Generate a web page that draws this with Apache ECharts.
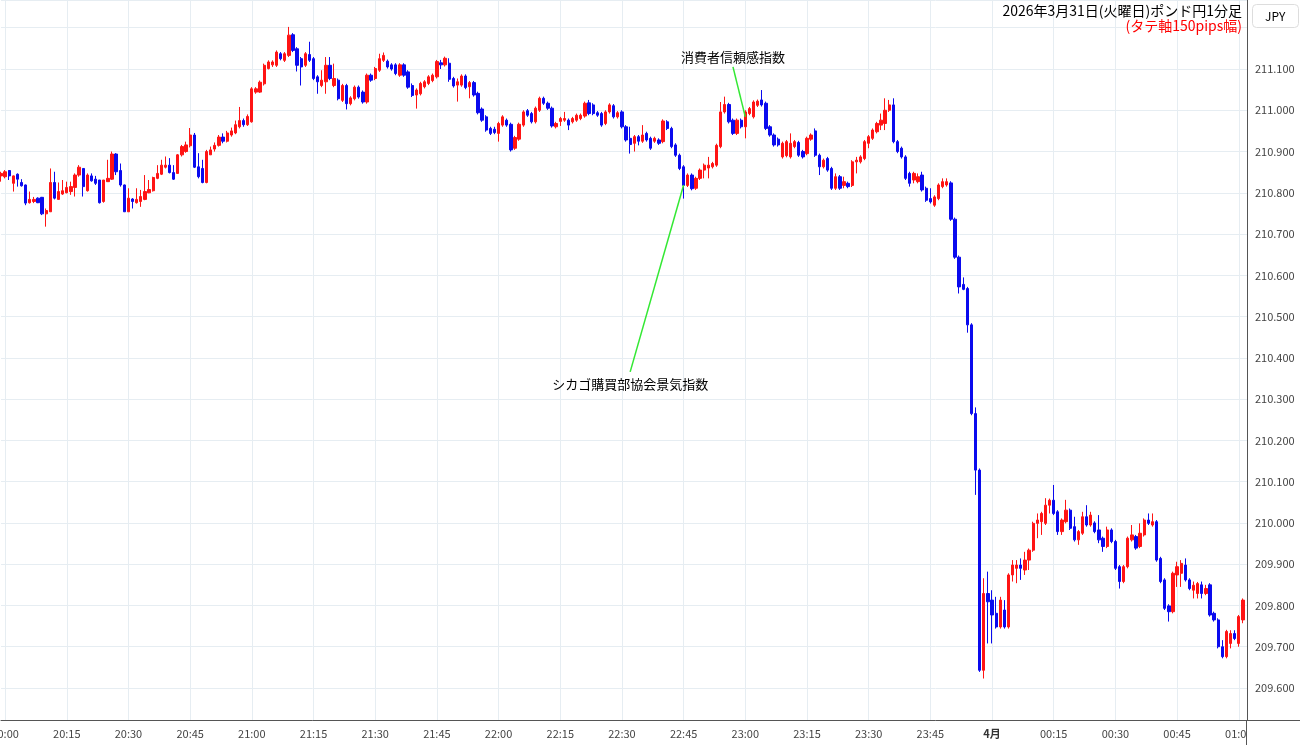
<!DOCTYPE html>
<html>
<head>
<meta charset="utf-8">
<title>ポンド円1分足</title>
<script src="https://cdn.jsdelivr.net/npm/echarts@6/dist/echarts.min.js"></script>
<style>
  html, body { margin: 0; padding: 0; background: #fff; }
  #main { width: 1300px; height: 745px; }
</style>
</head>
<body>
<div id="main"></div>
<script>
// GBP/JPY 1-minute candles, 2026/3/31 19:59 -> 4/1 01:01
const startMinute = 19 * 60 + 59;
const slotCount = 304; // one empty slot after the last candle

const opens = [
  210.841, 210.839, 210.854, 210.823, 210.845, 210.825, 210.819, 210.776, 210.779, 210.787,
  210.789, 210.749, 210.754, 210.825, 210.784, 210.797, 210.800, 210.803, 210.813, 210.843,
  210.859, 210.805, 210.841, 210.833, 210.831, 210.779, 210.827, 210.833, 210.894, 210.854,
  210.819, 210.754, 210.785, 210.776, 210.779, 210.784, 210.800, 210.805, 210.835, 210.845,
  210.862, 210.867, 210.849, 210.847, 210.892, 210.900, 210.914, 210.940, 210.863, 210.859,
  210.825, 210.892, 210.906, 210.915, 210.935, 210.925, 210.940, 210.945, 210.960, 210.975,
  210.965, 210.972, 211.044, 211.044, 211.064, 211.101, 211.110, 211.109, 211.137, 211.121,
  211.133, 211.183, 211.149, 211.125, 211.109, 211.135, 211.125, 211.081, 211.060, 211.069,
  211.109, 211.060, 211.073, 211.024, 211.060, 211.016, 211.028, 211.056, 211.044, 211.020,
  211.085, 211.077, 211.097, 211.121, 211.119, 211.110, 211.110, 211.085, 211.110, 211.093,
  211.060, 211.037, 211.040, 211.057, 211.065, 211.072, 211.081, 211.115, 211.110, 211.114,
  211.077, 211.061, 211.061, 211.083, 211.057, 211.067, 211.041, 211.003, 210.984, 210.956,
  210.954, 210.944, 210.964, 210.976, 210.966, 210.908, 210.930, 210.964, 210.999, 210.992,
  210.972, 211.000, 211.029, 211.017, 211.005, 210.960, 210.973, 210.976, 210.976, 210.972,
  210.976, 210.980, 210.986, 211.018, 211.013, 210.994, 210.992, 210.968, 210.996, 211.011,
  210.984, 210.996, 210.960, 210.932, 210.920, 210.936, 210.925, 210.944, 210.932, 210.925,
  210.928, 210.924, 210.972, 210.956, 210.916, 210.891, 210.863, 210.818, 210.843, 210.811,
  210.835, 210.855, 210.860, 210.863, 210.867, 210.912, 210.996, 211.014, 210.976, 210.944,
  210.976, 210.960, 210.992, 210.984, 211.012, 211.025, 211.017, 210.960, 210.940, 210.930,
  210.887, 210.890, 210.887, 210.912, 210.922, 210.900, 210.895, 210.930, 210.950, 210.891,
  210.863, 210.883, 210.859, 210.811, 210.839, 210.818, 210.823, 210.818, 210.875, 210.875,
  210.883, 210.920, 210.932, 210.948, 210.964, 210.968, 211.000, 211.013, 210.924, 210.908,
  210.887, 210.847, 210.831, 210.827, 210.843, 210.811, 210.786, 210.770, 210.786, 210.815,
  210.819, 210.824, 210.736, 210.644, 210.578, 210.568, 210.480, 210.265, 210.128, 209.643,
  209.829, 209.813, 209.781, 209.748, 209.789, 209.748, 209.874, 209.890, 209.898, 209.886,
  209.910, 209.934, 209.999, 210.003, 209.999, 210.043, 210.055, 210.027, 209.979, 210.003,
  210.031, 209.991, 209.959, 209.975, 210.015, 209.995, 210.000, 209.983, 209.963, 209.943,
  209.983, 209.955, 209.894, 209.858, 209.894, 209.959, 209.967, 209.943, 209.971, 210.007,
  209.995, 210.003, 209.914, 209.862, 209.799, 209.785, 209.874, 209.878, 209.898, 209.862,
  209.837, 209.829, 209.850, 209.829, 209.850, 209.781, 209.765, 209.700, 209.676, 209.708,
  209.732, 209.708, 209.765
];

const closes = [
  210.847, 210.851, 210.841, 210.841, 210.833, 210.817, 210.775, 210.784, 210.784, 210.776,
  210.749, 210.757, 210.825, 210.787, 210.803, 210.805, 210.813, 210.815, 210.843, 210.862,
  210.815, 210.843, 210.829, 210.823, 210.776, 210.831, 210.835, 210.894, 210.851, 210.819,
  210.754, 210.787, 210.779, 210.784, 210.791, 210.803, 210.808, 210.837, 210.847, 210.867,
  210.867, 210.849, 210.833, 210.892, 210.912, 210.916, 210.940, 210.862, 210.839, 210.825,
  210.900, 210.904, 210.915, 210.935, 210.925, 210.945, 210.950, 210.965, 210.975, 210.965,
  210.985, 211.052, 211.052, 211.068, 211.109, 211.117, 211.117, 211.141, 211.125, 211.137,
  211.182, 211.145, 211.109, 211.105, 211.137, 211.121, 211.077, 211.069, 211.073, 211.109,
  211.077, 211.077, 211.028, 211.060, 211.016, 211.030, 211.056, 211.032, 211.020, 211.085,
  211.073, 211.101, 211.125, 211.133, 211.105, 211.100, 211.089, 211.110, 211.085, 211.056,
  211.036, 211.049, 211.065, 211.069, 211.081, 211.085, 211.118, 211.110, 211.126, 211.075,
  211.059, 211.069, 211.083, 211.055, 211.067, 211.037, 210.994, 210.976, 210.952, 210.944,
  210.946, 210.968, 210.984, 210.964, 210.904, 210.934, 210.966, 210.996, 210.988, 210.972,
  211.005, 211.029, 211.017, 211.005, 210.962, 210.968, 210.980, 210.980, 210.964, 210.980,
  210.988, 210.988, 211.017, 210.992, 210.992, 210.988, 210.964, 210.996, 211.013, 210.984,
  210.994, 210.960, 210.928, 210.917, 210.936, 210.925, 210.940, 210.928, 210.908, 210.932,
  210.920, 210.974, 210.956, 210.912, 210.891, 210.859, 210.818, 210.843, 210.810, 210.835,
  210.855, 210.867, 210.867, 210.871, 210.915, 210.996, 211.014, 210.972, 210.944, 210.976,
  210.960, 210.996, 211.004, 211.020, 211.022, 211.013, 210.956, 210.940, 210.916, 210.916,
  210.920, 210.924, 210.920, 210.924, 210.891, 210.887, 210.932, 210.940, 210.891, 210.863,
  210.879, 210.855, 210.811, 210.839, 210.811, 210.827, 210.815, 210.875, 210.879, 210.887,
  210.924, 210.936, 210.952, 210.968, 210.976, 211.000, 211.013, 210.924, 210.900, 210.887,
  210.835, 210.823, 210.847, 210.839, 210.807, 210.782, 210.778, 210.790, 210.819, 210.827,
  210.827, 210.736, 210.644, 210.572, 210.566, 210.480, 210.265, 210.128, 209.643, 209.829,
  209.809, 209.777, 209.748, 209.813, 209.748, 209.874, 209.898, 209.898, 209.890, 209.910,
  209.934, 209.999, 210.007, 210.023, 210.043, 210.055, 210.023, 209.979, 210.007, 210.031,
  209.987, 209.959, 209.979, 210.015, 209.995, 210.019, 209.979, 209.959, 209.943, 209.983,
  209.955, 209.890, 209.858, 209.894, 209.963, 209.971, 209.939, 209.975, 210.007, 209.999,
  210.003, 209.910, 209.858, 209.793, 209.785, 209.878, 209.894, 209.902, 209.862, 209.841,
  209.849, 209.853, 209.829, 209.841, 209.777, 209.765, 209.700, 209.676, 209.737, 209.732,
  209.720, 209.773, 209.813
];

const lows = [
  210.827, 210.835, 210.831, 210.803, 210.815, 210.815, 210.770, 210.774, 210.775, 210.775,
  210.746, 210.718, 210.754, 210.784, 210.784, 210.795, 210.799, 210.795, 210.791, 210.839,
  210.791, 210.803, 210.827, 210.819, 210.774, 210.776, 210.827, 210.831, 210.843, 210.815,
  210.754, 210.754, 210.762, 210.774, 210.766, 210.782, 210.799, 210.803, 210.833, 210.843,
  210.859, 210.847, 210.831, 210.847, 210.888, 210.897, 210.910, 210.860, 210.835, 210.823,
  210.823, 210.892, 210.900, 210.912, 210.920, 210.922, 210.936, 210.942, 210.956, 210.960,
  210.962, 210.970, 211.040, 211.042, 211.060, 211.099, 211.105, 211.105, 211.121, 211.117,
  211.129, 211.141, 211.094, 211.060, 211.105, 211.117, 211.073, 211.040, 211.056, 211.040,
  211.073, 211.056, 211.024, 211.020, 211.002, 211.012, 211.024, 211.028, 211.016, 211.016,
  211.069, 211.073, 211.093, 211.117, 211.101, 211.096, 211.085, 211.081, 211.081, 211.052,
  211.032, 211.004, 211.036, 211.053, 211.061, 211.068, 211.077, 211.100, 211.106, 211.069,
  211.055, 211.021, 211.057, 211.051, 211.029, 211.033, 210.990, 210.972, 210.948, 210.940,
  210.942, 210.924, 210.960, 210.960, 210.900, 210.904, 210.926, 210.960, 210.984, 210.968,
  210.968, 210.996, 211.013, 211.001, 210.958, 210.956, 210.962, 210.972, 210.952, 210.968,
  210.972, 210.976, 210.982, 210.988, 210.988, 210.984, 210.960, 210.964, 210.992, 210.980,
  210.980, 210.956, 210.924, 210.895, 210.900, 210.915, 210.921, 210.924, 210.904, 210.921,
  210.916, 210.920, 210.952, 210.908, 210.887, 210.855, 210.786, 210.814, 210.806, 210.807,
  210.831, 210.835, 210.835, 210.859, 210.863, 210.908, 210.992, 210.968, 210.940, 210.940,
  210.956, 210.932, 210.988, 210.980, 211.008, 211.009, 210.952, 210.936, 210.912, 210.912,
  210.883, 210.886, 210.883, 210.908, 210.887, 210.883, 210.891, 210.926, 210.887, 210.843,
  210.859, 210.851, 210.807, 210.807, 210.807, 210.811, 210.811, 210.814, 210.847, 210.871,
  210.879, 210.908, 210.928, 210.944, 210.952, 210.952, 210.996, 210.920, 210.896, 210.883,
  210.831, 210.815, 210.823, 210.823, 210.803, 210.778, 210.774, 210.766, 210.782, 210.811,
  210.815, 210.732, 210.640, 210.556, 210.564, 210.461, 210.261, 210.068, 209.639, 209.623,
  209.708, 209.708, 209.744, 209.744, 209.744, 209.744, 209.858, 209.854, 209.862, 209.874,
  209.886, 209.930, 209.963, 209.971, 209.995, 210.023, 210.019, 209.971, 209.971, 209.999,
  209.983, 209.955, 209.947, 209.971, 209.991, 209.991, 209.975, 209.951, 209.930, 209.939,
  209.951, 209.886, 209.841, 209.854, 209.890, 209.955, 209.935, 209.939, 209.967, 209.995,
  209.991, 209.906, 209.854, 209.789, 209.761, 209.781, 209.845, 209.845, 209.858, 209.837,
  209.817, 209.817, 209.817, 209.825, 209.773, 209.761, 209.696, 209.672, 209.672, 209.696,
  209.716, 209.700, 209.757
];

const highs = [
  210.851, 210.855, 210.855, 210.842, 210.847, 210.833, 210.820, 210.803, 210.790, 210.789,
  210.790, 210.762, 210.859, 210.851, 210.825, 210.831, 210.827, 210.827, 210.847, 210.867,
  210.859, 210.847, 210.847, 210.841, 210.831, 210.831, 210.880, 210.900, 210.896, 210.871,
  210.820, 210.811, 210.787, 210.811, 210.807, 210.843, 210.831, 210.839, 210.867, 210.880,
  210.888, 210.884, 210.867, 210.894, 210.916, 210.924, 210.957, 210.945, 210.896, 210.880,
  210.904, 210.912, 210.922, 210.940, 210.944, 210.950, 210.958, 210.975, 211.008, 210.980,
  210.990, 211.056, 211.056, 211.072, 211.113, 211.121, 211.121, 211.145, 211.141, 211.141,
  211.202, 211.187, 211.153, 211.129, 211.141, 211.166, 211.129, 211.085, 211.097, 211.129,
  211.129, 211.113, 211.077, 211.064, 211.064, 211.034, 211.060, 211.060, 211.048, 211.089,
  211.089, 211.105, 211.137, 211.140, 211.123, 211.114, 211.114, 211.114, 211.114, 211.097,
  211.065, 211.053, 211.069, 211.073, 211.085, 211.089, 211.122, 211.122, 211.130, 211.126,
  211.081, 211.077, 211.087, 211.087, 211.071, 211.071, 211.045, 211.007, 210.988, 210.960,
  210.960, 210.972, 210.988, 210.980, 210.970, 210.938, 210.970, 211.000, 211.003, 210.996,
  211.009, 211.033, 211.033, 211.021, 211.009, 210.972, 210.984, 210.996, 210.980, 210.984,
  210.992, 210.992, 211.021, 211.025, 211.017, 210.998, 210.996, 211.000, 211.017, 211.015,
  210.998, 211.000, 210.964, 210.960, 210.940, 210.940, 210.964, 210.948, 210.936, 210.936,
  210.932, 210.978, 210.976, 210.960, 210.920, 210.895, 210.867, 210.847, 210.847, 210.839,
  210.859, 210.871, 210.887, 210.875, 210.919, 211.020, 211.033, 211.018, 210.980, 210.980,
  210.980, 211.000, 211.008, 211.024, 211.026, 211.049, 211.021, 210.964, 210.944, 210.934,
  210.924, 210.928, 210.944, 210.928, 210.926, 210.904, 210.936, 210.944, 210.956, 210.895,
  210.883, 210.887, 210.863, 210.847, 210.843, 210.839, 210.827, 210.879, 210.887, 210.891,
  210.928, 210.940, 210.956, 210.972, 210.992, 211.029, 211.025, 211.029, 210.928, 210.912,
  210.891, 210.851, 210.851, 210.847, 210.851, 210.815, 210.811, 210.794, 210.823, 210.835,
  210.835, 210.828, 210.740, 210.648, 210.595, 210.572, 210.484, 210.280, 210.132, 209.866,
  209.882, 209.837, 209.821, 209.821, 209.813, 209.878, 209.910, 209.910, 209.914, 209.930,
  209.938, 210.003, 210.023, 210.027, 210.060, 210.059, 210.092, 210.031, 210.011, 210.056,
  210.035, 210.015, 209.983, 210.027, 210.043, 210.027, 210.004, 210.019, 209.967, 209.991,
  209.987, 209.959, 209.898, 209.898, 209.967, 209.995, 209.971, 209.999, 210.011, 210.023,
  210.023, 210.007, 209.918, 209.866, 209.803, 209.882, 209.906, 209.910, 209.914, 209.866,
  209.858, 209.857, 209.858, 209.850, 209.854, 209.785, 209.769, 209.716, 209.741, 209.740,
  209.740, 209.777, 209.817
];

// event notes: text, candle the line points at, place of the text
const noteTexts = ['シカゴ購買部協会景気指数', '消費者信頼感指数'];
const noteAnchorTimes = ['22:45', '23:00'];
const noteAnchorPrices = [210.819, 210.984];
const noteLineEndTimes = ['22:32', '22:57'];
const noteLineEndPrices = [210.366, 211.105];
const noteTextPrices = [210.337, 211.130];

const yMin = 209.5225;
const yMax = 211.2672;
const yLabelTop = 211.1; // labels above this sit under the JPY box

const fontFamily = '"Noto Sans CJK JP", "Noto Sans", sans-serif';

let times = [];
for (let i = 0; i < slotCount; i++) {
  let m = (startMinute + i) % (24 * 60);
  times.push(String(Math.floor(m / 60)).padStart(2, '0') + ':' + String(m % 60).padStart(2, '0'));
}
let candles = opens.map((o, i) => [o, closes[i], lows[i], highs[i]]);
const isQuarter = (idx) => (startMinute + idx) % 15 === 0;

let myChart = echarts.init(document.getElementById('main'));
let option = {
  animation: false,
  textStyle: { fontFamily: fontFamily },
  title: [
    {
      text: '2026年3月31日(火曜日)ポンド円1分足',
      subtext: '(タテ軸150pips幅)',
      left: 1242,
      top: 4,
      padding: 0,
      itemGap: 1,
      textAlign: 'right',
      textStyle: { fontSize: 14, fontWeight: 'normal', color: '#000', fontFamily: fontFamily },
      subtextStyle: { fontSize: 14, color: '#ff0000', fontFamily: fontFamily }
    },
    {
      text: 'JPY',
      left: 1252,
      top: 4,
      padding: [6, 13],
      borderColor: '#dddddd',
      borderWidth: 1,
      borderRadius: 4,
      textStyle: { fontSize: 12, fontWeight: 'normal', color: '#000', fontFamily: fontFamily }
    }
  ],
  grid: { left: 1, right: 53, top: 0, bottom: 25, outerBoundsMode: 'none', containLabel: false },
  xAxis: {
    type: 'category',
    data: times,
    boundaryGap: false,
    axisLine: { lineStyle: { color: '#555' } },
    axisTick: { show: false },
    axisLabel: {
      interval: (idx) => isQuarter(idx),
      color: '#444',
      fontSize: 11,
      margin: 8,
      formatter: (v) => v === '00:00' ? '{m|4月}' : v,
      rich: { m: { fontWeight: 'bold', fontSize: 11, color: '#333' } }
    },
    splitLine: { show: true, interval: (idx) => isQuarter(idx), lineStyle: { color: '#e6edf2' } }
  },
  yAxis: {
    type: 'value',
    position: 'right',
    min: yMin,
    max: yMax,
    minInterval: 0.1,
    maxInterval: 0.1,
    splitNumber: 17,
    axisLine: { show: true, lineStyle: { color: '#555' } },
    axisTick: { show: false },
    axisLabel: {
      color: '#444',
      fontSize: 11,
      margin: 8,
      showMinLabel: false,
      showMaxLabel: false,
      formatter: (v) => v > yLabelTop + 0.05 ? '' : v.toFixed(3)
    },
    splitLine: { lineStyle: { color: '#e6edf2' } }
  },
  graphic: [
    { type: 'rect', z: 100, shape: { x: 1247, y: 721, width: 53, height: 24 }, style: { fill: '#fff' } },
    { type: 'line', z: 101, shape: { x1: 1246.5, y1: 720, x2: 1246.5, y2: 745 }, style: { stroke: '#555', lineWidth: 1 } },
    { type: 'line', z: 101, shape: { x1: 1246, y1: 720.5, x2: 1300, y2: 720.5 }, style: { stroke: '#555', lineWidth: 1 } }
  ],
  series: [
    {
      type: 'candlestick',
      data: candles,
      barWidth: 2.8,
      clip: false,
      itemStyle: {
        color: '#ff1414',
        color0: '#0a0aee',
        borderColor: '#ff1414',
        borderColor0: '#0a0aee',
        borderWidth: 1
      },
      markLine: {
        silent: true,
        symbol: ['none', 'none'],
        label: { show: false },
        lineStyle: { color: '#33e833', width: 1.5, type: 'solid' },
        data: noteTexts.map((t, i) => [
          { coord: [noteAnchorTimes[i], noteAnchorPrices[i]] },
          { coord: [noteLineEndTimes[i], noteLineEndPrices[i]] }
        ])
      },
      markPoint: {
        silent: true,
        symbol: 'rect',
        symbolSize: 0,
        label: {
          show: true,
          position: 'inside',
          color: '#000',
          fontSize: 13,
          fontFamily: fontFamily,
          formatter: (p) => p.name
        },
        data: noteTexts.map((t, i) => ({ name: t, coord: [noteLineEndTimes[i], noteTextPrices[i]] }))
      }
    }
  ]
};
myChart.setOption(option);
</script>
</body>
</html>
